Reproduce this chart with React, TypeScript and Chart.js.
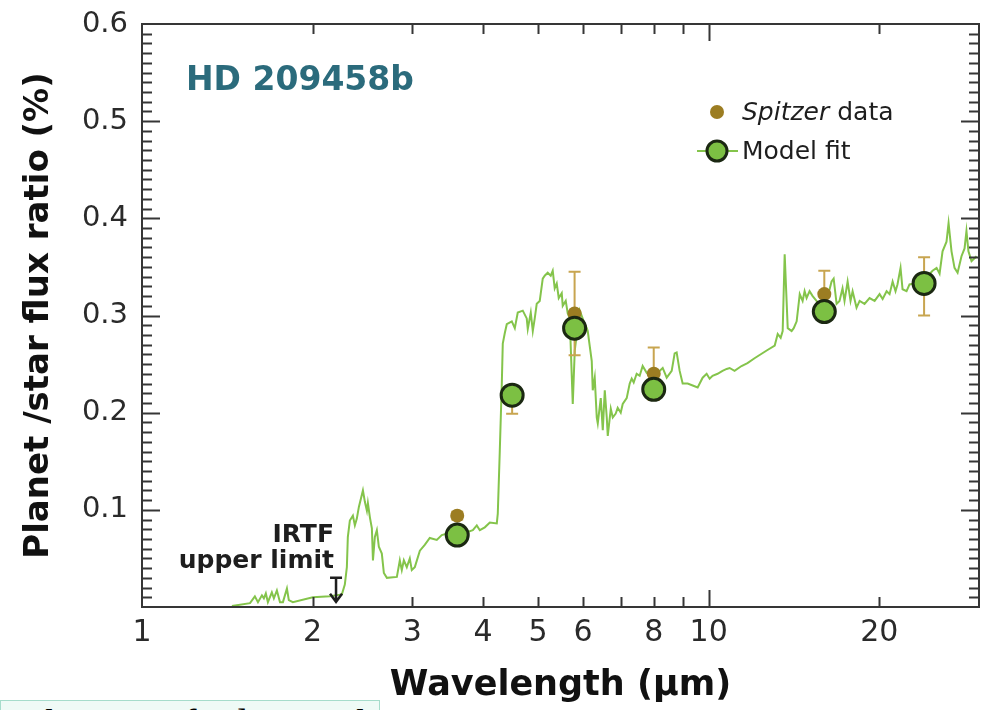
import React, { useEffect, useRef } from "react";
import { Chart, registerables } from "chart.js";

Chart.register(...registerables);

// ---------- data ----------
const spectrumWavelength = [
  1.441, 1.551, 1.582, 1.602, 1.628, 1.641, 1.654, 1.668, 1.695, 1.709, 1.73, 1.752, 1.773, 1.802, 1.816, 1.846,
  2.002, 2.146, 2.253, 2.28, 2.299, 2.308, 2.327, 2.356, 2.375, 2.394, 2.414, 2.454, 2.474, 2.494, 2.504, 2.525,
  2.545, 2.556, 2.576, 2.597, 2.618, 2.65, 2.672, 2.705, 2.817, 2.851, 2.874, 2.898, 2.933, 2.969, 2.993, 3.03,
  3.093, 3.155, 3.22, 3.313, 3.381, 3.522, 3.609, 3.743, 3.836, 3.898, 3.946, 4.027, 4.11, 4.228, 4.245, 4.28,
  4.315, 4.332, 4.368, 4.403, 4.494, 4.549, 4.604, 4.699, 4.775, 4.795, 4.854, 4.894, 4.933, 4.973, 5.034, 5.096,
  5.137, 5.2, 5.264, 5.307, 5.35, 5.394, 5.438, 5.505, 5.527, 5.595, 5.641, 5.687, 5.757, 5.804, 5.923, 6.02,
  6.094, 6.118, 6.219, 6.244, 6.295, 6.347, 6.373, 6.451, 6.504, 6.557, 6.61, 6.637, 6.719, 6.773, 6.855, 6.911,
  6.996, 7.053, 7.168, 7.256, 7.315, 7.375, 7.464, 7.556, 7.648, 7.774, 7.998, 8.196, 8.297, 8.433, 8.606, 8.71,
  8.781, 8.889, 8.998, 9.183, 9.371, 9.564, 9.759, 9.919, 10.04, 10.16, 10.37, 10.58, 10.76, 10.89, 11.11, 11.43,
  11.71, 12.05, 12.66, 13.08, 13.24, 13.4, 13.51, 13.62, 13.79, 14.01, 14.13, 14.3, 14.48, 14.65, 14.77, 14.89,
  15.07, 15.26, 15.5, 15.82, 16.15, 16.48, 16.62, 16.82, 17.02, 17.23, 17.37, 17.59, 17.8, 17.95, 18.24, 18.47,
  18.84, 19.23, 19.63, 20.03, 20.28, 20.61, 20.86, 21.12, 21.37, 21.54, 21.81, 21.99, 22.35, 22.62, 23.09, 23.85,
  24.84, 25.25, 25.56, 25.87, 26.29, 26.51, 26.83, 27.16, 27.5, 27.94, 28.29, 28.51, 28.74, 29.1, 29.7,
];
const spectrumFlux = [
  0.001, 0.004, 0.011, 0.005, 0.012, 0.009, 0.014, 0.005, 0.015, 0.009, 0.017, 0.005, 0.005, 0.019, 0.007, 0.005,
  0.01, 0.011, 0.013, 0.023, 0.041, 0.072, 0.089, 0.094, 0.084, 0.091, 0.103, 0.12, 0.108, 0.099, 0.107, 0.092,
  0.081, 0.048, 0.072, 0.079, 0.062, 0.055, 0.035, 0.03, 0.031, 0.048, 0.038, 0.048, 0.041, 0.05, 0.038, 0.041,
  0.058, 0.064, 0.071, 0.069, 0.074, 0.077, 0.079, 0.077, 0.079, 0.084, 0.079, 0.082, 0.087, 0.086, 0.096, 0.161,
  0.23, 0.271, 0.282, 0.291, 0.294, 0.287, 0.303, 0.305, 0.297, 0.286, 0.303, 0.284, 0.297, 0.312, 0.315, 0.338,
  0.341, 0.344, 0.341, 0.346, 0.328, 0.333, 0.318, 0.323, 0.31, 0.315, 0.302, 0.297, 0.209, 0.264, 0.305, 0.294,
  0.287, 0.284, 0.253, 0.223, 0.236, 0.195, 0.189, 0.215, 0.182, 0.223, 0.195, 0.176, 0.204, 0.195, 0.199, 0.205,
  0.2, 0.209, 0.215, 0.23, 0.235, 0.231, 0.24, 0.238, 0.248, 0.241, 0.235, 0.243, 0.246, 0.236, 0.243, 0.261,
  0.262, 0.243, 0.23, 0.23, 0.228, 0.226, 0.236, 0.24, 0.235, 0.238, 0.24, 0.243, 0.245, 0.246, 0.243, 0.248,
  0.251, 0.256, 0.264, 0.269, 0.281, 0.277, 0.284, 0.363, 0.287, 0.284, 0.287, 0.294, 0.322, 0.315, 0.325, 0.318,
  0.325, 0.32, 0.315, 0.31, 0.315, 0.335, 0.338, 0.312, 0.315, 0.328, 0.315, 0.335, 0.315, 0.325, 0.308, 0.315,
  0.312, 0.318, 0.315, 0.322, 0.317, 0.325, 0.322, 0.335, 0.325, 0.332, 0.349, 0.327, 0.325, 0.332, 0.333, 0.335,
  0.346, 0.349, 0.343, 0.366, 0.376, 0.395, 0.366, 0.349, 0.344, 0.361, 0.369, 0.387, 0.366, 0.356, 0.361,
];

const bandWavelength = [3.6, 4.5, 5.8, 8.0, 16, 24];
const spitzerFlux = [0.094, 0.213, 0.302, 0.24, 0.322, 0.33];
const spitzerError = [0.004, 0.014, 0.043, 0.027, 0.024, 0.03];
const modelFlux = [0.074, 0.218, 0.287, 0.224, 0.304, 0.333];

const xTickLabels = [1, 2, 3, 4, 5, 6, 8, 10, 20];
const xTickMarks = [2, 3, 4, 5, 6, 7, 8, 9, 10, 20];
const yTickLabels = [0.1, 0.2, 0.3, 0.4, 0.5, 0.6];

const irtfWavelength = 2.2;
const irtfUpperLimit = 0.03;

// ---------- styling ----------
const FONT = "'DejaVu Sans', sans-serif";
const AXIS = "#363636";
const SPEC_GREEN = "#84c44b";
const FIT_GREEN = "#7cc043";
const FIT_EDGE = "#1b2812";
const GOLD = "#9c7d22";
const GOLD_ERR = "#c8a550";

const decorPlugin = {
  id: "decor",
  beforeDatasetDraw(chart: any, args: any) {
    if (args.index !== 1) return;
    const { ctx, scales } = chart;
    const x = scales.x;
    const y = scales.y;
    ctx.save();
    ctx.strokeStyle = GOLD_ERR;
    ctx.lineWidth = 2;
    bandWavelength.forEach((w, i) => {
      const px = x.getPixelForValue(w);
      const top = y.getPixelForValue(spitzerFlux[i] + spitzerError[i]);
      const bot = y.getPixelForValue(spitzerFlux[i] - spitzerError[i]);
      ctx.beginPath();
      ctx.moveTo(px, top);
      ctx.lineTo(px, bot);
      ctx.moveTo(px - 6, top);
      ctx.lineTo(px + 6, top);
      ctx.moveTo(px - 6, bot);
      ctx.lineTo(px + 6, bot);
      ctx.stroke();
    });
    ctx.restore();
  },
  afterDatasetsDraw(chart: any) {
    const { ctx, chartArea: a, scales } = chart;
    const x = scales.x;
    const y = scales.y;
    ctx.save();
    // frame
    ctx.strokeStyle = AXIS;
    ctx.lineWidth = 2;
    ctx.strokeRect(a.left, a.top, a.right - a.left, a.bottom - a.top);
    // y ticks (left and right, inward)
    ctx.lineWidth = 2;
    ctx.beginPath();
    for (let i = 1; i < 60; i++) {
      const py = Math.round(y.getPixelForValue(i / 100)) + 0.5;
      const len = i % 10 === 0 ? 18 : 10;
      ctx.moveTo(a.left, py);
      ctx.lineTo(a.left + len, py);
      ctx.moveTo(a.right, py);
      ctx.lineTo(a.right - len, py);
    }
    // x ticks (bottom and top, inward)
    xTickMarks.forEach((v) => {
      const px = Math.round(x.getPixelForValue(v)) + 0.5;
      const len = v === 10 ? 17 : 10;
      ctx.moveTo(px, a.bottom);
      ctx.lineTo(px, a.bottom - len);
      ctx.moveTo(px, a.top);
      ctx.lineTo(px, a.top + len);
    });
    ctx.stroke();

    // title
    ctx.fillStyle = "#2b6b7c";
    ctx.font = `bold 33px ${FONT}`;
    ctx.textAlign = "left";
    ctx.textBaseline = "alphabetic";
    ctx.fillText("HD 209458b", 186, 90);

    // legend
    ctx.fillStyle = GOLD;
    ctx.beginPath();
    ctx.arc(717, 112, 7, 0, Math.PI * 2);
    ctx.fill();
    ctx.strokeStyle = SPEC_GREEN;
    ctx.lineWidth = 2;
    ctx.beginPath();
    ctx.moveTo(697, 151);
    ctx.lineTo(738, 151);
    ctx.stroke();
    ctx.fillStyle = FIT_GREEN;
    ctx.strokeStyle = FIT_EDGE;
    ctx.lineWidth = 3;
    ctx.beginPath();
    ctx.arc(717, 151, 10, 0, Math.PI * 2);
    ctx.fill();
    ctx.stroke();
    ctx.fillStyle = "#1e1e1e";
    ctx.textBaseline = "middle";
    ctx.font = `italic 25px ${FONT}`;
    ctx.fillText("Spitzer", 742, 113);
    const w = ctx.measureText("Spitzer ").width;
    ctx.font = `25px ${FONT}`;
    ctx.fillText("data", 742 + w, 113);
    ctx.fillText("Model fit", 742, 152);

    // IRTF upper limit annotation
    ctx.fillStyle = "#1e1e1e";
    ctx.font = `bold 25px ${FONT}`;
    ctx.textAlign = "right";
    ctx.textBaseline = "alphabetic";
    ctx.fillText("IRTF", 334, 542);
    ctx.fillText("upper limit", 334, 568);
    const ax = x.getPixelForValue(irtfWavelength);
    const ay = y.getPixelForValue(irtfUpperLimit);
    const tip = ay + 24;
    ctx.strokeStyle = "#1e1e1e";
    ctx.lineWidth = 2.5;
    ctx.beginPath();
    ctx.moveTo(ax - 6, ay);
    ctx.lineTo(ax + 6, ay);
    ctx.moveTo(ax, ay);
    ctx.lineTo(ax, tip);
    ctx.moveTo(ax - 6, tip - 8);
    ctx.lineTo(ax, tip);
    ctx.lineTo(ax + 6, tip - 8);
    ctx.stroke();
    ctx.restore();
  },
};

function SpectrumChart() {
  const ref = useRef<HTMLCanvasElement | null>(null);
  useEffect(() => {
    if (!ref.current) return;
    const chart = new Chart(ref.current, {
      type: "scatter",
      data: {
        datasets: [
          {
            label: "Model fit",
            data: bandWavelength.map((w, i) => ({ x: w, y: modelFlux[i] })),
            showLine: false,
            pointRadius: 11,
            pointBackgroundColor: FIT_GREEN,
            pointBorderColor: FIT_EDGE,
            pointBorderWidth: 3,
          },
          {
            label: "Spitzer data",
            data: bandWavelength.map((w, i) => ({ x: w, y: spitzerFlux[i] })),
            showLine: false,
            pointRadius: 7,
            pointBackgroundColor: GOLD,
            pointBorderWidth: 0,
          },
          {
            label: "Model spectrum",
            data: spectrumWavelength.map((w, i) => ({ x: w, y: spectrumFlux[i] })),
            showLine: true,
            borderColor: SPEC_GREEN,
            borderWidth: 2,
            pointRadius: 0,
            tension: 0,
          },
        ],
      } as any,
      options: {
        responsive: false,
        animation: false,
        layout: { autoPadding: false, padding: { top: 24, right: 7, left: 0, bottom: 0 } },
        plugins: { legend: { display: false }, tooltip: { enabled: false } },
        scales: {
          x: {
            type: "logarithmic",
            min: 1,
            max: 30,
            afterBuildTicks: (s: any) => {
              s.ticks = xTickLabels.map((v) => ({ value: v }));
            },
            afterFit: (s: any) => {
              s.height = 103;
              s.paddingLeft = 0;
              s.paddingRight = 0;
              s.paddingTop = 0;
              s.paddingBottom = 0;
            },
            ticks: {
              autoSkip: false,
              maxRotation: 0,
              padding: 8,
              color: "#2a2a2a",
              font: { family: FONT, size: 30 },
              callback: (v: any) => String(v),
            },
            grid: { display: false, drawTicks: false },
            border: { display: false },
            title: {
              display: true,
              text: "Wavelength (µm)",
              color: "#111",
              font: { family: FONT, size: 35, weight: "bold" },
              padding: { top: 0, bottom: 3 },
            },
          },
          y: {
            min: 0,
            max: 0.6,
            afterBuildTicks: (s: any) => {
              s.ticks = yTickLabels.map((v) => ({ value: v }));
            },
            afterFit: (s: any) => {
              s.width = 142;
              s.paddingLeft = 0;
              s.paddingRight = 0;
              s.paddingTop = 0;
              s.paddingBottom = 0;
            },
            ticks: {
              padding: 14,
              color: "#2a2a2a",
              font: { family: FONT, size: 29 },
              callback: (v: any) => Number(v).toFixed(1),
            },
            grid: { display: false, drawTicks: false },
            border: { display: false },
            title: {
              display: true,
              text: "Planet /star flux ratio (%)",
              color: "#111",
              font: { family: FONT, size: 34, weight: "bold" },
              padding: { top: 19, bottom: 0 },
            },
          },
        },
      } as any,
      plugins: [decorPlugin],
    });
    return () => chart.destroy();
  }, []);
  return <canvas ref={ref} width={986} height={710} style={{ display: "block" }} />;
}

export default function App() {
  return (
    <div
      style={{
        position: "fixed",
        left: 0,
        top: 0,
        width: 986,
        height: 710,
        overflow: "hidden",
        background: "#fff",
      }}
    >
      <SpectrumChart />
      <div
        style={{
          position: "absolute",
          left: 0,
          top: 700,
          width: 380,
          height: 40,
          boxSizing: "border-box",
          background: "#effaf6",
          border: "1px solid #a6dccb",
          overflow: "hidden",
          fontFamily: "'Liberation Serif', serif",
          fontSize: 40,
          lineHeight: "46px",
          color: "#000",
          paddingLeft: 20,
          whiteSpace: "nowrap",
        }}
      >
        The main finding is that
      </div>
    </div>
  );
}
